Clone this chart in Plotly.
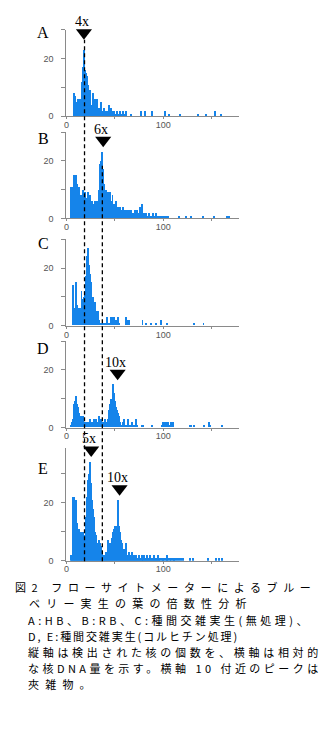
import plotly.graph_objects as go

W, H = 323, 733

# ---------------- data ----------------
panel_labels = ["A", "B", "C", "D", "E"]

a_start = 8
a_counts = [8, 7, 5, 5, 6, 5, 6, 6, 6, 12, 17, 23, 16, 15, 14, 11, 9, 9, 4, 3,
            8, 2, 6, 2, 6, 2, 3, 2, 5, 2, 1, 3, 2, 1, 2, 1, 4, 2, 3, 1,
            2, 1, 2, 0, 1, 2, 0, 1, 2, 0, 1, 2, 0, 1, 2]
a_tail_x = [67, 77, 82, 89, 102, 106, 118, 136, 145, 154, 160]
a_tail_y = [1, 2, 2, 2, 2, 1, 1, 1, 1, 2, 1]

b_start = 5
b_counts = [11, 11, 11, 15, 11, 15, 12, 11, 11, 8, 7, 8, 6, 10, 7, 9, 7, 6, 9, 5,
            8, 4, 6, 5, 4, 6, 5, 6, 5, 10, 19, 20, 23, 17, 12, 8, 10, 7, 9, 5,
            9, 6, 5, 8, 4, 5, 4, 6, 3, 4, 2, 4, 3, 2, 4, 3, 3, 2, 3, 2,
            3, 2, 3, 2, 2, 1, 3, 2, 3, 2, 2, 4, 2, 5, 2, 1, 2, 1, 2, 1,
            1, 2, 1, 1, 1, 2, 1, 1, 2, 1, 1, 0, 1, 1, 0, 1, 1, 0, 1, 1, 1]
b_tail_x = [117, 124, 129, 141, 153, 166, 167, 168]
b_tail_y = [1, 1, 1, 1, 1, 1, 1, 1]

c_start = 7
c_counts = [14, 6, 5, 15, 7, 5, 6, 5, 6, 12, 8, 9, 10, 12, 17, 24, 27, 21, 18, 15,
            9, 10, 8, 8, 4, 5, 5, 2, 1, 1, 0, 1, 1, 1, 1, 3, 1, 1, 1, 3,
            1, 1, 3, 3, 1, 2, 1, 3, 1]
c_tail_x = [62, 64, 65, 79, 83, 88, 93, 98, 104, 132, 142]
c_tail_y = [3, 2, 2, 2, 1, 1, 1, 2, 1, 1, 1]

d_start = 5
d_counts = [1, 2, 3, 8, 9, 11, 8, 7, 5, 4, 4, 3, 4, 4, 2, 2, 2, 1, 2, 2,
            3, 2, 1, 2, 3, 2, 3, 2, 2, 4, 2, 3, 1, 2, 1, 3, 1, 2, 3, 6,
            8, 10, 9, 12, 15, 12, 9, 7, 6, 5, 4, 2, 1, 0, 2, 3, 1, 0, 1, 3,
            1, 0, 1, 2, 0, 1, 0, 3, 1]
d_tail_x = [78, 80, 89, 99, 100, 101, 102, 103, 104, 105, 106, 108, 109, 110, 111,
            128, 129, 132, 142, 143, 148, 149, 161]
d_tail_y = [1, 1, 1, 1, 2, 1, 2, 2, 1, 2, 1, 2, 1, 2, 1, 1, 1, 1, 1, 1, 2, 1, 1]

e_start = 5
e_counts = [2, 2, 22, 22, 19, 21, 13, 11, 11, 8, 10, 8, 6, 10, 8, 9, 15, 22, 28, 30,
            34, 27, 21, 18, 15, 10, 9, 6, 6, 7, 6, 5, 3, 2, 1, 2, 3, 3, 7, 5,
            6, 5, 8, 9, 10, 11, 12, 11, 12, 21, 12, 10, 7, 6, 4, 4, 3, 6, 2, 2,
            3, 1, 2, 3, 1, 2, 1, 2, 1, 1, 2, 1, 1, 2, 1, 1, 2, 1, 1, 2,
            1, 1, 2, 1, 1, 1, 2, 1, 1, 1, 2, 1, 1, 0, 1, 1, 1, 0, 1, 2,
            1, 0, 1, 1, 0, 1, 0, 1, 1, 0, 1, 0, 1, 0, 1, 0, 1]
e_tail_x = [128, 131, 147, 155, 158, 161]
e_tail_y = [1, 1, 1, 1, 1, 1]

panel_starts = [a_start, b_start, c_start, d_start, e_start]
panel_counts = [a_counts, b_counts, c_counts, d_counts, e_counts]
panel_tail_x = [a_tail_x, b_tail_x, c_tail_x, d_tail_x, e_tail_x]
panel_tail_y = [a_tail_y, b_tail_y, c_tail_y, d_tail_y, e_tail_y]

y_max = [30, 30, 30, 30, 39]
x_max = 178
x_tick_vals = [0, 100]
x_minor_vals = [50, 150]
y_tick_vals = [0, 20]
y_minor_vals = [10, 30]

peak_panel = [0, 1, 2, 3, 4, 4]
peak_x = [18.1, 38.0, 25.6, 52.9, 25.6, 54.9]
peak_y = [29.0, 27.2, 30.7, 18.9, 38.3, 24.9]
peak_text = ["4x", "6x", "5x", "10x", "5x", "10x"]

guide_x = [18.7, 37.1]

caption_lines = [
    "図2 フローサイトメーターによるブルー",
    "ベリー実生の葉の倍数性分析",
    "A:HB、B:RB、C:種間交雑実生(無処理)、",
    "D, E:種間交雑実生(コルヒチン処理)",
    "縦軸は検出された核の個数を、横軸は相対的",
    "な核DNA量を示す。横軸 10 付近のピークは",
    "夾雑物。",
]
caption_spacing = [5.6, 6.2, 3.5, 1.9, 3.7, 3.45, 6.2]

# ---------------- layout positions (pixels) ----------------
plot_left_px, plot_right_px = 64, 238
zero_py = [117, 220, 328, 430.5, 564.5]
top_py = [30, 133, 241, 343.5, 451]
letter_px = 40.5
letter_py = [33, 139, 245, 351, 472]
guide_py = [(40, 565), (167, 565)]
caption_x = [12, 26, 25, 25.5, 25, 25, 25]
caption_y = [591, 607.5, 624.5, 640.5, 656.5, 673, 688.5]
CAP_SIZE = 11

BAR_COLOR = "#1584ea"
AXIS_COLOR = "#8a8a8a"
TICK_FONT = dict(family="Liberation Sans, Arial, sans-serif", size=9, color="#555555")


def px_x(p):
    return p / W


def px_y(p):
    return 1 - p / H


fig = go.Figure()
layout = {}

for i in range(5):
    sfx = "" if i == 0 else str(i + 1)
    xa, ya = "x" + sfx, "y" + sfx
    xs = [panel_starts[i] + k for k in range(len(panel_counts[i]))] + panel_tail_x[i]
    ys = list(panel_counts[i]) + panel_tail_y[i]
    fig.add_trace(go.Bar(x=xs, y=ys, width=1, marker=dict(color=BAR_COLOR, line=dict(width=0)),
                         xaxis=xa, yaxis=ya, hoverinfo="skip"))
    layout["xaxis" + sfx] = dict(
        domain=[px_x(plot_left_px), px_x(plot_right_px)], range=[0, x_max],
        anchor=ya, showgrid=False, zeroline=False, showline=True, linecolor=AXIS_COLOR,
        linewidth=1, tickvals=x_tick_vals, ticks="outside", ticklen=2, tickcolor=AXIS_COLOR,
        tickfont=TICK_FONT, ticklabelstandoff=-2,
        minor=dict(tickvals=x_minor_vals, ticks="outside", ticklen=2, tickcolor=AXIS_COLOR),
    )
    layout["yaxis" + sfx] = dict(
        domain=[px_y(zero_py[i]), px_y(top_py[i])], range=[0, y_max[i]],
        anchor=xa, showgrid=False, zeroline=False, showline=True, linecolor=AXIS_COLOR,
        linewidth=1, tickvals=y_tick_vals, ticks="outside", ticklen=4, tickcolor=AXIS_COLOR,
        tickfont=TICK_FONT, ticklabelstandoff=6,
        minor=dict(tickvals=y_minor_vals, ticks="outside", ticklen=4, tickcolor=AXIS_COLOR),
    )

# peak markers (triangles) and labels
annotations = []
for j in range(len(peak_x)):
    i = peak_panel[j]
    sfx = "" if i == 0 else str(i + 1)
    fig.add_trace(go.Scatter(x=[peak_x[j]], y=[peak_y[j]], mode="markers",
                             marker=dict(symbol="triangle-down", size=14, color="black"),
                             xaxis="x" + sfx, yaxis="y" + sfx, cliponaxis=False, hoverinfo="skip"))
    annotations.append(dict(x=peak_x[j], y=peak_y[j], xref="x" + sfx, yref="y" + sfx,
                            text=peak_text[j], showarrow=False, xanchor="center", yanchor="middle",
                            xshift=-2, yshift=11,
                            font=dict(family="Liberation Serif, Times New Roman, serif", size=14,
                                      color="black")))

for i, lab in enumerate(panel_labels):
    annotations.append(dict(x=px_x(letter_px), y=px_y(letter_py[i]), xref="paper", yref="paper",
                            text=lab, showarrow=False, xanchor="center", yanchor="middle",
                            font=dict(family="Liberation Serif, Times New Roman, serif", size=16,
                                      color="black")))

cap_font = dict(family="Noto Sans CJK JP", size=CAP_SIZE, color="black")
for t, s, cx, cy in zip(caption_lines, caption_spacing, caption_x, caption_y):
    annotations.append(dict(x=px_x(cx), y=px_y(cy), xref="paper", yref="paper",
                            text='<span style="letter-spacing:%.2fpx">%s</span>' % (s, t),
                            showarrow=False, xanchor="left", yanchor="middle", align="left",
                            borderpad=0, borderwidth=0, font=cap_font))

shapes = []
for gx, (y0p, y1p) in zip(guide_x, guide_py):
    shapes.append(dict(type="line", xref="x", yref="paper", x0=gx, x1=gx,
                       y0=px_y(y1p), y1=px_y(y0p),
                       line=dict(color="black", width=1.3, dash="4px,3px")))

fig.update_layout(
    width=W, height=H, margin=dict(l=0, r=0, t=0, b=0),
    paper_bgcolor="white", plot_bgcolor="white", showlegend=False,
    bargap=0, barmode="overlay", annotations=annotations, shapes=shapes,
    **layout,
)

fig.write_html("out.html")
